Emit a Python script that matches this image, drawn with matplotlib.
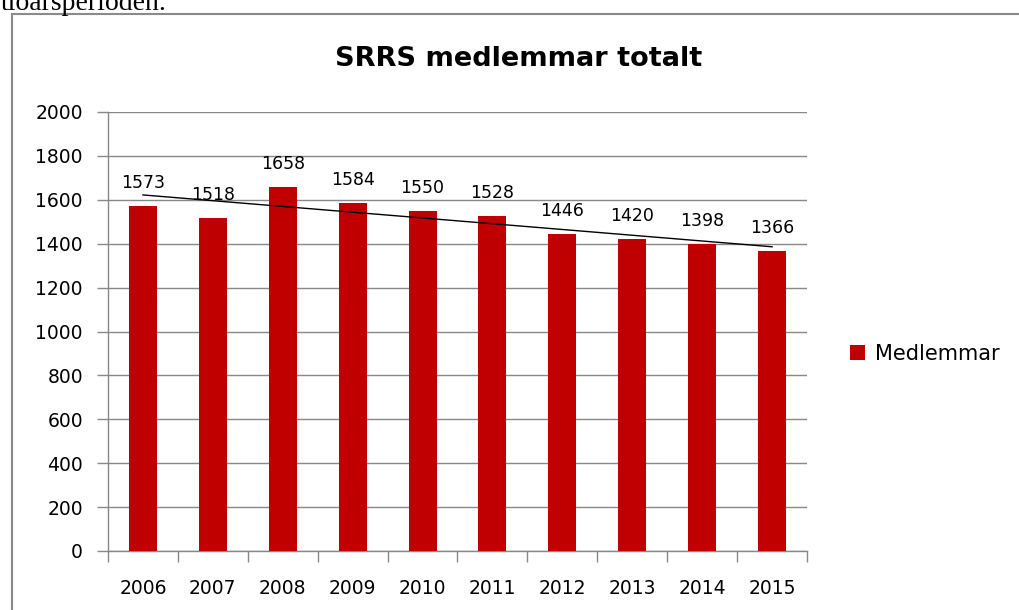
import numpy as np
import matplotlib.pyplot as plt
from matplotlib.patches import Rectangle

years = ["2006", "2007", "2008", "2009", "2010", "2011", "2012", "2013", "2014", "2015"]
members = [1573, 1518, 1658, 1584, 1550, 1528, 1446, 1420, 1398, 1366]
yticks = [0, 200, 400, 600, 800, 1000, 1200, 1400, 1600, 1800, 2000]

font = "DejaVu Sans"
W, H = 1020, 610
fig = plt.figure(figsize=(W / 100, H / 100), dpi=100)

# page text above the chart (cut off at the top)
fig.text(1 / W, 1 - 10 / H, "tioårsperioden.", family="Liberation Serif",
         fontsize=20, va="baseline", ha="left")

# chart border
fig.patches.append(Rectangle((12 / W, -0.05), 1.0, 1.05 - 14 / H, transform=fig.transFigure,
                             fill=False, edgecolor="#8a8a8a", linewidth=1.5))

ax = fig.add_axes([108 / W, 1 - 551 / H, 699 / W, 439 / H])
x = np.arange(len(years))
ax.bar(x, members, width=0.4, color="#C00000", zorder=3, label="Medlemmar")

# linear trendline
k, m = np.polyfit(x, members, 1)
ax.plot(x, k * x + m, color="black", linewidth=1, zorder=4)

for xi, v in zip(x, members):
    ax.annotate(str(v), (xi, v), xytext=(0, 13), textcoords="offset points",
                ha="center", va="baseline", fontsize=12.5, family=font, zorder=5)

ax.set_xlim(-0.5, len(years) - 0.5)
ax.set_ylim(0, 2000)
ax.set_yticks(yticks)
ax.set_yticklabels([str(t) for t in yticks], family=font, fontsize=13.5)
ax.yaxis.grid(True, color="#888888", linewidth=1, zorder=0)
ax.set_axisbelow(True)

ax.set_xticks(np.arange(len(years) + 1) - 0.5)
ax.set_xticklabels([])
ax.set_xticks(x, minor=True)
ax.set_xticklabels(years, minor=True, family=font, fontsize=13.5)
ax.tick_params(axis="x", which="major", length=8, color="#888888", width=1)
ax.tick_params(axis="x", which="minor", length=0, pad=20)
ax.tick_params(axis="y", length=8, color="#888888", width=1, pad=10)

for s in ["top", "right"]:
    ax.spines[s].set_visible(False)
for s in ["left", "bottom"]:
    ax.spines[s].set_color("#888888")
    ax.spines[s].set_linewidth(1)

fig.text(519 / W, 1 - 66 / H, "SRRS medlemmar totalt", family=font, weight="bold",
         fontsize=19.5, ha="center", va="baseline")

fig.legend(loc="center left", bbox_to_anchor=(850 / W, 1 - 354 / H), frameon=False,
           prop={"family": font, "size": 15}, handlelength=0.7, handleheight=0.7,
           handletextpad=0.5, borderpad=0, borderaxespad=0)

fig.savefig("out.png", dpi=100)
